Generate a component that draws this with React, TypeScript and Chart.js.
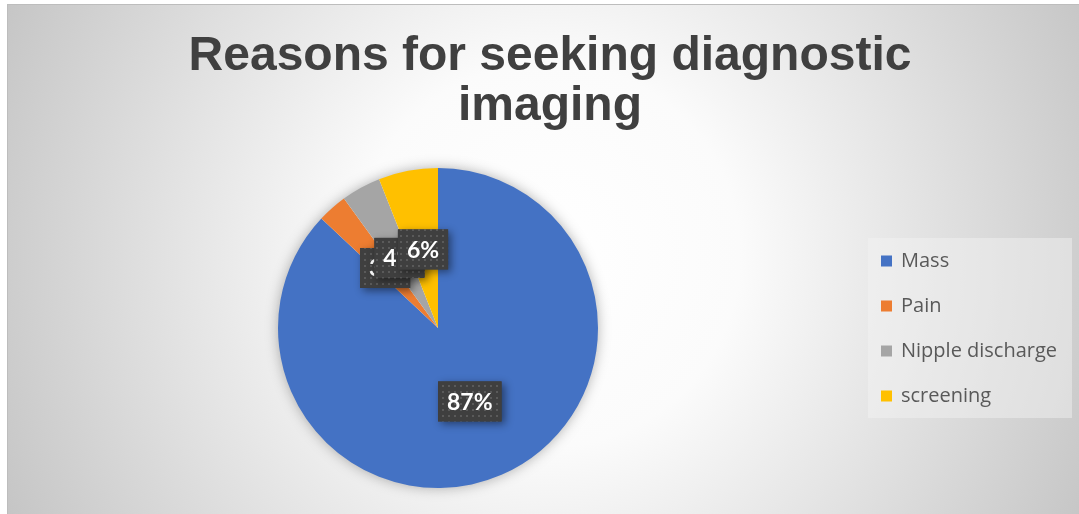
import React, { useEffect, useRef } from "react";
import { Chart, registerables } from "chart.js";

Chart.register(...registerables);

const titleLines = ["Reasons for seeking diagnostic", "imaging"];
const categories = ["Mass", "Pain", "Nipple discharge", "screening"];
const values = [87, 3, 4, 6];
const colors = ["#4472C4", "#ED7D31", "#A5A5A5", "#FFC000"];

const CW = 1084;
const CH = 516;

const bgPlugin = {
  id: "bgPlugin",
  beforeDraw(chart: any) {
    const ctx = chart.ctx;
    ctx.save();
    const g = ctx.createRadialGradient(540, 250, 0, 540, 250, 640);
    g.addColorStop(0, "#ffffff");
    g.addColorStop(0.3, "#fbfbfb");
    g.addColorStop(1, "#c0c0c0");
    ctx.fillStyle = g;
    ctx.fillRect(0, 0, chart.width, chart.height);
    ctx.restore();
  },
};

const titlePlugin = {
  id: "titlePlugin",
  afterDraw(chart: any) {
    const ctx = chart.ctx;
    ctx.save();
    ctx.font = "bold 48px 'Liberation Sans', Arial, sans-serif";
    ctx.fillStyle = "#404040";
    ctx.textAlign = "center";
    ctx.textBaseline = "alphabetic";
    titleLines.forEach((t, i) => {
      ctx.fillText(t, chart.width / 2, 65 + i * 50);
    });
    ctx.restore();
  },
};

const pieShadowPlugin = {
  id: "pieShadow",
  beforeDatasetsDraw(chart: any) {
    const meta = chart.getDatasetMeta(0);
    const arc = meta.data[0];
    if (!arc) return;
    const ctx = chart.ctx;
    ctx.save();
    ctx.shadowColor = "rgba(0,0,0,0.35)";
    ctx.shadowBlur = 14;
    ctx.fillStyle = "#ffffff";
    ctx.beginPath();
    ctx.arc(arc.x, arc.y, arc.outerRadius - 1, 0, Math.PI * 2);
    ctx.fill();
    ctx.restore();
  },
};

const legendPlugin = {
  id: "customLegend",
  afterDraw(chart: any) {
    const ctx = chart.ctx;
    ctx.save();
    ctx.fillStyle = "rgba(245,245,245,0.45)";
    ctx.fillRect(860, 233, 204, 180);
    ctx.font = "20px 'Open Sans', Lato, sans-serif";
    ctx.textBaseline = "middle";
    ctx.textAlign = "left";
    categories.forEach((c, i) => {
      const cy = 256 + i * 45;
      ctx.fillStyle = colors[i];
      ctx.fillRect(873, cy - 5.5, 11, 11);
      ctx.fillStyle = "#595959";
      ctx.fillText(c, 893, cy);
    });
    ctx.restore();
  },
};

let patternCache: CanvasPattern | null = null;
function getPattern(ctx: CanvasRenderingContext2D) {
  if (patternCache) return patternCache;
  const pc = document.createElement("canvas");
  pc.width = 6;
  pc.height = 6;
  const p = pc.getContext("2d")!;
  p.fillStyle = "#3f3f3f";
  p.fillRect(0, 0, 6, 6);
  p.fillStyle = "#5a5a5a";
  p.fillRect(2, 2, 2, 2);
  patternCache = ctx.createPattern(pc, "repeat");
  return patternCache;
}

const labelPlugin = {
  id: "boxLabels",
  afterDatasetsDraw(chart: any) {
    const ctx = chart.ctx;
    const meta = chart.getDatasetMeta(0);
    const data = chart.data.datasets[0].data as number[];
    const total = data.reduce((a, b) => a + b, 0);
    ctx.save();
    ctx.font = "bold 23px Lato, 'Open Sans', sans-serif";
    meta.data.forEach((arc: any, i: number) => {
      const pos = arc.tooltipPosition();
      const txt = Math.round((data[i] / total) * 100) + "%";
      const tw = ctx.measureText(txt).width;
      const w = tw + 18;
      const h = 40;
      const x = pos.x - w / 2;
      const y = pos.y - h / 2;
      ctx.save();
      ctx.shadowColor = "rgba(0,0,0,0.45)";
      ctx.shadowBlur = 8;
      ctx.shadowOffsetX = 3;
      ctx.shadowOffsetY = 3;
      ctx.fillStyle = "#3f3f3f";
      ctx.fillRect(x, y, w, h);
      ctx.restore();
      ctx.fillStyle = getPattern(ctx) as any;
      ctx.fillRect(x, y, w, h);
      ctx.fillStyle = "#ffffff";
      ctx.textAlign = "center";
      ctx.textBaseline = "middle";
      ctx.fillText(txt, pos.x, pos.y + 1);
    });
    ctx.restore();
  },
};

export default function App() {
  const ref = useRef<HTMLCanvasElement>(null);
  useEffect(() => {
    if (!ref.current) return;
    const chart = new Chart(ref.current, {
      type: "pie",
      data: {
        labels: categories,
        datasets: [
          {
            data: values,
            backgroundColor: colors,
            borderWidth: 0,
          },
        ],
      },
      options: {
        responsive: false,
        animation: false,
        devicePixelRatio: 1,
        layout: {
          padding: { left: 270, right: CW - 590, top: 163, bottom: CH - 483 },
        },
        plugins: {
          legend: { display: false },
          title: { display: false },
          tooltip: { enabled: false },
        },
      },
      plugins: [bgPlugin, pieShadowPlugin, labelPlugin, titlePlugin, legendPlugin],
    });
    return () => chart.destroy();
  }, []);
  return (
    <div
      style={{
        position: "fixed",
        left: 0,
        top: 0,
        width: 1079,
        height: 514,
        overflow: "hidden",
        background: "#ffffff",
      }}
    >
      <div
        style={{
          position: "absolute",
          left: 7,
          top: 4,
          border: "1px solid #bdbdbd",
          width: CW,
          height: CH,
        }}
      >
        <canvas ref={ref} width={CW} height={CH} style={{ width: CW, height: CH, display: "block" }} />
      </div>
    </div>
  );
}
